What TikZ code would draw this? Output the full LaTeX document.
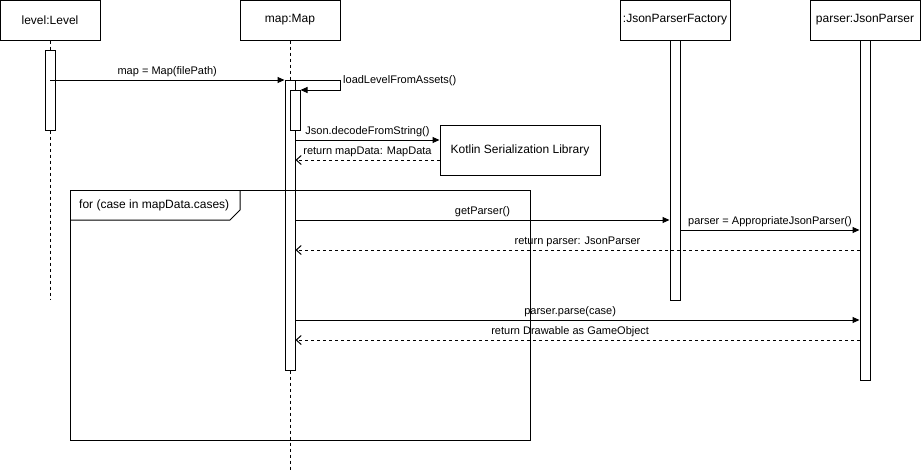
\documentclass[tikz,border=0pt]{standalone}
\usepackage{fontspec}
\setmainfont{Liberation Sans}
\usetikzlibrary{arrows.meta,calc}
\begin{document}
\begin{tikzpicture}[x=1pt,y=-1pt,
 head/.style={draw,line width=1pt,minimum width=100pt,minimum height=40pt,font=\fontsize{12}{14}\selectfont,inner sep=0pt},
 act/.style={draw,fill=white,line width=1pt,minimum width=10pt,inner sep=0pt},
 life/.style={line width=1pt,dash pattern=on 3pt off 3pt},
 msg/.style={line width=1pt,-{Triangle[length=7pt,width=6pt]}},
 ret/.style={line width=1pt,dash pattern=on 3pt off 3pt,-{Straight Barb[length=5pt,width=9pt]}},
 lbl/.style={font=\fontsize{11}{13}\selectfont,inner sep=1pt,above=2pt},
 frame/.style={line width=1pt}]
\useasboundingbox (0,0) rectangle (921,471);
% heads
\node[head] (level) at (50,20) {level:Level};
\node[head] (map) at (290,20) {map:Map};
\node[head,minimum width=110pt] (fac) at (675,20) {:JsonParserFactory};
\node[head,minimum width=110pt] (par) at (865,20) {parser:JsonParser};
% lifelines
\coordinate (levelend) at (50,300);
\coordinate (mapend) at (290,471);
\draw[life] (level.south) -- (levelend);
\draw[life] (map.south) -- (mapend);
% activations
\node[act,minimum height=80pt] (levelact) at (50,90) {};
\node[act,minimum height=290pt] (mapact) at (290,225) {};
\node[act,minimum height=40pt] (mapsub) at (295,110) {};
\node[act,minimum height=260pt] (facact) at (675,170) {};
\node[act,minimum height=340pt] (paract) at (865,210) {};
% external box
\node[draw,line width=1pt,minimum width=160pt,minimum height=50pt,inner sep=0pt,font=\fontsize{12}{14}\selectfont] (kotlin) at (520,150) {Kotlin Serialization Library};
% messages
\draw[msg] (levelact.center |- 0,80) -- (mapact.west |- 0,80) node[lbl,midway] {map = Map(filePath)};
\coordinate (selfa) at (340,80);
\coordinate (selfb) at (340,90);
\draw[msg] (mapact.east |- selfa) -- (selfa) -- (selfb) -- (mapsub.east |- selfb);
\node[font=\fontsize{11}{13}\selectfont,inner sep=1pt,anchor=west] (selflbl) at (342,81) {loadLevelFromAssets()};
\draw[msg] (mapact.east |- 0,140) -- (kotlin.west |- 0,140) node[lbl,midway] {Json.decodeFromString()};
\draw[ret] (kotlin.west |- 0,160) -- (mapact.east |- 0,160) node[lbl,midway] {return mapData: MapData};
% loop frame
\draw[frame] (70,190) rectangle (530,440);
\draw[frame] (70,220) -- (230,220) -- (240,210) -- (240,190);
\node[font=\fontsize{12}{14}\selectfont,inner sep=0pt,anchor=west] (looplbl) at (79,205) {for (case in mapData.cases)};
% loop messages
\draw[msg] (mapact.east |- 0,220) -- (facact.west |- 0,220) node[lbl,midway] {getParser()};
\draw[msg] (facact.east |- 0,230) -- (paract.west |- 0,230) node[lbl,midway] {parser = AppropriateJsonParser()};
\draw[ret] (paract.west |- 0,250) -- (mapact.east |- 0,250) node[lbl,midway] {return parser: JsonParser};
\draw[msg] (mapact.east |- 0,320) -- (paract.west |- 0,320) node[lbl,pos=0.487] {parser.parse(case)};
\draw[ret] (paract.west |- 0,340) -- (mapact.east |- 0,340) node[lbl,pos=0.513] {return Drawable as GameObject};
\end{tikzpicture}
\end{document}
